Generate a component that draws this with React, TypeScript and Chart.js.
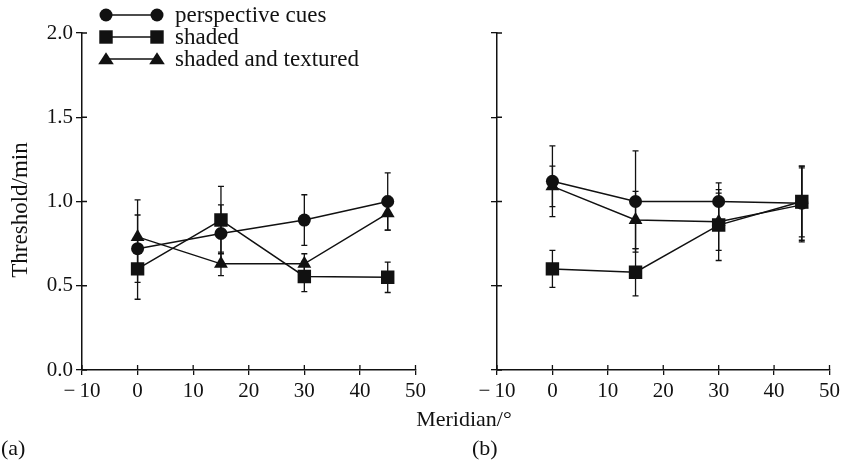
import React, { useEffect, useRef } from 'react';
import { Chart, registerables } from 'chart.js';

Chart.register(...registerables);

const meridians = [0, 15, 30, 45];
const seriesLabels = ['perspective cues', 'shaded', 'shaded and textured'];
const pointStyles = ['circle', 'rect', 'triangle'];
const pointRadii = [6.5, 9.5, 8];

const xTicks = [-10, 0, 10, 20, 30, 40, 50];
const yTicks = [0, 0.5, 1.0, 1.5, 2.0];

// panel (a)
const aPerspective = [0.72, 0.81, 0.89, 1.0];
const aPerspectiveErr = [0.2, 0.17, 0.15, 0.17];
const aShaded = [0.6, 0.89, 0.555, 0.55];
const aShadedErr = [0.18, 0.2, 0.09, 0.09];
const aTextured = [0.79, 0.63, 0.63, 0.93];
const aTexturedErr = [0.22, 0.07, 0.06, 0.1];

// panel (b)
const bPerspective = [1.12, 1.0, 1.0, 0.99];
const bPerspectiveErr = [0.21, 0.3, 0.11, 0.22];
const bShaded = [0.6, 0.58, 0.86, 1.0];
const bShadedErr = [0.11, 0.14, 0.21, 0.21];
const bTextured = [1.09, 0.89, 0.88, 0.98];
const bTexturedErr = [0.12, 0.17, 0.17, 0.22];

const FONT = "'Liberation Serif', 'DejaVu Serif', serif";
const INK = '#111';

function drawMarker(ctx: CanvasRenderingContext2D, style: string, x: number, y: number, r: number) {
  ctx.beginPath();
  if (style === 'circle') {
    ctx.arc(x, y, r, 0, Math.PI * 2);
  } else if (style === 'rect') {
    const s = Math.SQRT1_2 * r;
    ctx.rect(x - s, y - s, 2 * s, 2 * s);
  } else {
    const h = r * 1.3;
    ctx.moveTo(x, y - h * 0.66);
    ctx.lineTo(x + h * 0.75, y + h * 0.5);
    ctx.lineTo(x - h * 0.75, y + h * 0.5);
    ctx.closePath();
  }
  ctx.fill();
}

const errorBarPlugin = {
  id: 'errorBars',
  beforeDatasetsDraw(chart: any) {
    const { ctx, scales } = chart;
    const x = scales.x;
    const y = scales.y;
    ctx.save();
    ctx.strokeStyle = INK;
    ctx.lineWidth = 1.3;
    chart.data.datasets.forEach((ds: any) => {
      ds.data.forEach((pt: any, i: number) => {
        const e = ds.errors[i];
        const px = x.getPixelForValue(pt.x);
        const top = y.getPixelForValue(pt.y + e);
        const bot = y.getPixelForValue(pt.y - e);
        ctx.beginPath();
        ctx.moveTo(px, top);
        ctx.lineTo(px, bot);
        ctx.moveTo(px - 3, top);
        ctx.lineTo(px + 3, top);
        ctx.moveTo(px - 3, bot);
        ctx.lineTo(px + 3, bot);
        ctx.stroke();
      });
    });
    ctx.restore();
  },
};

const innerTicksPlugin = {
  id: 'innerTicks',
  afterDraw(chart: any) {
    const { ctx, chartArea, scales } = chart;
    const x = scales.x;
    const y = scales.y;
    ctx.save();
    ctx.strokeStyle = INK;
    ctx.lineWidth = 1.3;
    ctx.beginPath();
    y.ticks.forEach((t: any) => {
      const py = y.getPixelForValue(t.value);
      ctx.moveTo(chartArea.left, py);
      ctx.lineTo(chartArea.left + 5, py);
    });
    x.ticks.forEach((t: any) => {
      const px = x.getPixelForValue(t.value);
      ctx.moveTo(px, chartArea.bottom);
      ctx.lineTo(px, chartArea.bottom - 5);
    });
    ctx.stroke();
    ctx.restore();
  },
};

const legendPlugin = {
  id: 'insideLegend',
  afterDraw(chart: any) {
    const { ctx } = chart;
    ctx.save();
    ctx.fillStyle = INK;
    ctx.strokeStyle = INK;
    ctx.lineWidth = 1.5;
    ctx.font = `23px ${FONT}`;
    ctx.textBaseline = 'middle';
    chart.data.datasets.forEach((ds: any, i: number) => {
      const yy = 15 + i * 22;
      ctx.beginPath();
      ctx.moveTo(106, yy);
      ctx.lineTo(156, yy);
      ctx.stroke();
      drawMarker(ctx, ds.pointStyle, 106, yy, ds.pointRadius);
      drawMarker(ctx, ds.pointStyle, 157, yy, ds.pointRadius);
      ctx.fillText(ds.label, 175, yy + 1);
    });
    ctx.restore();
  },
};

function buildDatasets(values: number[][], errors: number[][]) {
  return values.map((vals, i) => ({
    label: seriesLabels[i],
    data: meridians.map((m, j) => ({ x: m, y: vals[j] })),
    errors: errors[i],
    borderColor: INK,
    backgroundColor: INK,
    borderWidth: 1.5,
    pointStyle: pointStyles[i],
    pointRadius: pointRadii[i],
    pointBorderWidth: 0,
    pointBackgroundColor: INK,
    showLine: true,
    tension: 0,
  }));
}

function makeConfig(datasets: any[], yAxisWidth: number, showYLabels: boolean, withLegend: boolean): any {
  return {
    type: 'scatter',
    data: { datasets },
    options: {
      animation: false,
      responsive: false,
      maintainAspectRatio: false,
      layout: { padding: { top: 33, right: 14, bottom: 0, left: 0 } },
      plugins: { legend: { display: false }, tooltip: { enabled: false } },
      scales: {
        x: {
          type: 'linear',
          min: -10,
          max: 50,
          afterBuildTicks: (s: any) => {
            s.ticks = xTicks.map((v) => ({ value: v }));
          },
          afterFit: (s: any) => {
            s.height = 91;
          },
          border: { display: true, color: INK, width: 1.5 },
          grid: { display: true, drawOnChartArea: false, drawTicks: true, tickLength: 5, color: INK, lineWidth: 1.3 },
          ticks: {
            color: INK,
            padding: 4,
            maxRotation: 0,
            font: { family: FONT, size: 21 },
            callback: (v: any) => (v < 0 ? '\u2212\u2009' + Math.abs(v) : String(v)),
          },
        },
        y: {
          type: 'linear',
          min: 0,
          max: 2,
          afterBuildTicks: (s: any) => {
            s.ticks = yTicks.map((v) => ({ value: v }));
          },
          afterFit: (s: any) => {
            s.width = yAxisWidth;
          },
          border: { display: true, color: INK, width: 1.5 },
          grid: { display: true, drawOnChartArea: false, drawTicks: true, tickLength: 6, color: INK, lineWidth: 1.3 },
          ticks: {
            color: INK,
            padding: 3,
            font: { family: FONT, size: 21 },
            callback: (v: any) => (showYLabels ? Number(v).toFixed(1) : ''),
          },
        },
      },
    },
    plugins: withLegend ? [errorBarPlugin, innerTicksPlugin, legendPlugin] : [errorBarPlugin, innerTicksPlugin],
  };
}

export default function App() {
  const leftRef = useRef<HTMLCanvasElement>(null);
  const rightRef = useRef<HTMLCanvasElement>(null);

  useEffect(() => {
    const left = new Chart(
      leftRef.current as HTMLCanvasElement,
      makeConfig(
        buildDatasets([aPerspective, aShaded, aTextured], [aPerspectiveErr, aShadedErr, aTexturedErr]),
        82,
        true,
        true
      )
    );
    const right = new Chart(
      rightRef.current as HTMLCanvasElement,
      makeConfig(
        buildDatasets([bPerspective, bShaded, bTextured], [bPerspectiveErr, bShadedErr, bTexturedErr]),
        67,
        false,
        false
      )
    );
    return () => {
      left.destroy();
      right.destroy();
    };
  }, []);

  const textStyle: React.CSSProperties = {
    position: 'absolute',
    fontFamily: FONT,
    fontSize: 22,
    color: INK,
    lineHeight: '24px',
    whiteSpace: 'nowrap',
  };

  return (
    <div style={{ position: 'absolute', left: 0, top: 0, width: 844, height: 461, background: '#fff', overflow: 'hidden' }}>
      <canvas ref={leftRef} width={430} height={461} style={{ position: 'absolute', left: 0, top: 0, width: 430, height: 461 }} />
      <canvas ref={rightRef} width={414} height={461} style={{ position: 'absolute', left: 430, top: 0, width: 414, height: 461 }} />
      <div
        style={{
          ...textStyle,
          fontSize: 23,
          left: 20 - 100,
          top: 210 - 12,
          width: 200,
          textAlign: 'center',
          transform: 'rotate(-90deg)',
          transformOrigin: '50% 50%',
        }}
      >
        Threshold/min
      </div>
      <div style={{ ...textStyle, left: 364, width: 200, textAlign: 'center', top: 407 }}>Meridian/°</div>
      <div style={{ ...textStyle, left: 1, top: 436 }}>(a)</div>
      <div style={{ ...textStyle, left: 472, top: 436 }}>(b)</div>
    </div>
  );
}
